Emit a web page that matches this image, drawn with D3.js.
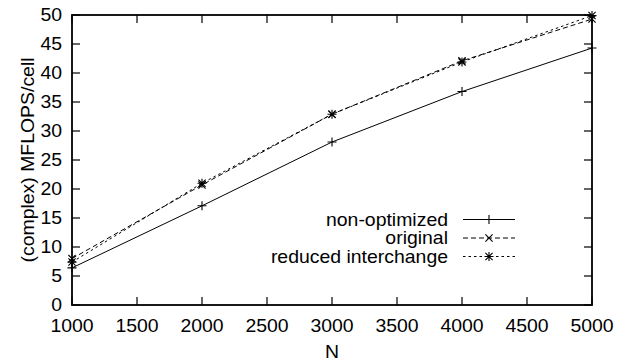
<!DOCTYPE html>
<html><head><meta charset="utf-8">
<script src="https://cdn.jsdelivr.net/npm/d3@7"></script>
<style>body{margin:0;background:#fff}svg{display:block}text{font-family:"Liberation Sans",Arial,sans-serif;fill:#000}</style>
</head><body>
<script>
const N = [1000, 2000, 3000, 4000, 5000];
const nonOptimized = [6.4, 17.1, 28.1, 36.8, 44.3];
const original = [8.0, 20.7, 32.9, 42.1, 49.3];
const reduced = [7.4, 21.0, 32.9, 41.9, 49.9];
const xTicks = [1000, 1500, 2000, 2500, 3000, 3500, 4000, 4500, 5000];
const yTicks = [0, 5, 10, 15, 20, 25, 30, 35, 40, 45, 50];
const seriesNames = ["non-optimized", "original", "reduced interchange"];

const W = 617, H = 362;
const L = 72, R = 592, T = 15, B = 305;
const fs = 18, sx = 1.08;

const svg = d3.select("body").append("svg").attr("width", W).attr("height", H);
const x = d3.scaleLinear().domain([1000, 5000]).range([L, R]);
const y = d3.scaleLinear().domain([0, 50]).range([B, T]);

function label(px, py, txt, anchor, dy, rot) {
  const t = svg.append("text")
    .attr("transform", `translate(${px},${py})` + (rot ? ` rotate(${rot})` : "") + ` scale(${sx},1)`)
    .attr("text-anchor", anchor).style("font-size", fs + "px").text(txt);
  if (dy) t.attr("dy", dy);
  return t;
}

const tl = 8;
const g = svg.append("g");
xTicks.forEach(t => {
  g.append("line").attr("x1", x(t)).attr("x2", x(t)).attr("y1", B).attr("y2", B - tl).attr("stroke", "#000").attr("stroke-width", 1.2);
  g.append("line").attr("x1", x(t)).attr("x2", x(t)).attr("y1", T).attr("y2", T + tl).attr("stroke", "#000").attr("stroke-width", 1.2);
  label(x(t), B + 27, t, "middle");
});
yTicks.forEach(t => {
  g.append("line").attr("x1", L).attr("x2", L + tl).attr("y1", y(t)).attr("y2", y(t)).attr("stroke", "#000").attr("stroke-width", 1.2);
  g.append("line").attr("x1", R).attr("x2", R - tl).attr("y1", y(t)).attr("y2", y(t)).attr("stroke", "#000").attr("stroke-width", 1.2);
  label(L - 10, y(t), t, "end", "0.36em");
});
g.append("rect").attr("x", L).attr("y", T).attr("width", R - L).attr("height", B - T).attr("fill", "none").attr("stroke", "#000").attr("stroke-width", 1.8);

label((L + R) / 2, 358, "N", "middle");
label(34, 160, "(complex) MFLOPS/cell", "middle", null, -90);

const ms = 4.5;
function marker(sel, type, cx, cy) {
  const p = sel.append("path").attr("stroke", "#000").attr("stroke-width", 1.1).attr("fill", "none");
  let d = "";
  if (type === "plus" || type === "star") d += `M${cx - ms},${cy}H${cx + ms}M${cx},${cy - ms}V${cy + ms}`;
  if (type === "cross" || type === "star") { const s = ms * 0.8; d += `M${cx - s},${cy - s}L${cx + s},${cy + s}M${cx - s},${cy + s}L${cx + s},${cy - s}`; }
  p.attr("d", d);
}

const series = [
  {name: seriesNames[0], vals: nonOptimized, dash: null, m: "plus"},
  {name: seriesNames[1], vals: original, dash: "5,3", m: "cross"},
  {name: seriesNames[2], vals: reduced, dash: "2.5,3", m: "star"}
];
const line = d3.line().x((d, i) => x(N[i])).y(d => y(d));
series.forEach(s => {
  const p = svg.append("path").datum(s.vals).attr("d", line).attr("fill", "none").attr("stroke", "#000").attr("stroke-width", 1);
  if (s.dash) p.attr("stroke-dasharray", s.dash);
  s.vals.forEach((v, i) => marker(svg, s.m, x(N[i]), y(v)));
});

const legY = [219.5, 238, 256.5];
series.forEach((s, i) => {
  label(448, legY[i], s.name, "end", "0.36em");
  const l = svg.append("line").attr("x1", 463).attr("x2", 515).attr("y1", legY[i]).attr("y2", legY[i]).attr("stroke", "#000").attr("stroke-width", 1);
  if (s.dash) l.attr("stroke-dasharray", s.dash);
  marker(svg, s.m, 489, legY[i]);
});
</script>
</body></html>
